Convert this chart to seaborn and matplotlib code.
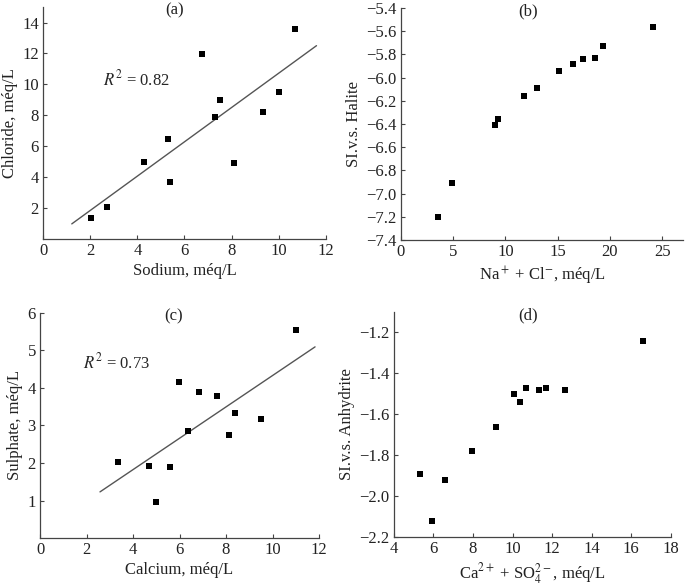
import numpy as np
import pandas as pd
import seaborn as sns
import matplotlib.pyplot as plt

# (a) sodium vs chloride
sodium = [2.05, 2.73, 4.29, 5.29, 5.40, 6.75, 7.30, 7.52, 8.12, 9.34, 9.99, 10.69]
chloride = [1.39, 2.10, 4.97, 6.50, 3.67, 11.97, 7.87, 9.00, 4.95, 8.20, 9.52, 13.60]

# (b) Na + Cl vs SI halite
na_cl = [3.51, 4.88, 8.99, 9.25, 11.73, 12.98, 15.08, 16.45, 17.41, 18.56, 19.32, 24.10]
si_halite = [-7.20, -6.91, -6.41, -6.36, -6.16, -6.09, -5.94, -5.88, -5.84, -5.83, -5.73, -5.56]

# (c) calcium vs sulphate
calcium = [3.35, 4.70, 5.00, 5.59, 5.96, 6.38, 6.82, 7.60, 8.14, 8.37, 9.51, 11.03]
sulphate = [2.03, 1.92, 0.96, 1.90, 4.17, 2.84, 3.89, 3.78, 2.75, 3.33, 3.16, 5.55]

# (d) Ca + SO4 vs SI anhydrite
ca_so4 = [5.32, 5.94, 6.58, 7.95, 9.18, 10.09, 10.39, 10.68, 11.35, 11.69, 12.67, 16.57]
si_anhydrite = [-1.89, -2.12, -1.92, -1.78, -1.66, -1.50, -1.54, -1.47, -1.48, -1.47, -1.48, -1.24]

sns.set_style("ticks")
plt.rcParams['font.family'] = ['Liberation Serif', 'DejaVu Serif']
plt.rcParams['mathtext.fontset'] = 'stix'
plt.rcParams['font.size'] = 12
plt.rcParams['xtick.direction'] = 'in'
plt.rcParams['ytick.direction'] = 'in'
plt.rcParams['axes.edgecolor'] = '#444444'
plt.rcParams['xtick.color'] = '#444444'
plt.rcParams['ytick.color'] = '#444444'
plt.rcParams['xtick.labelcolor'] = '#222222'
plt.rcParams['ytick.labelcolor'] = '#222222'

fig = plt.figure(figsize=(6.85, 5.86), dpi=100)
ax_a = fig.add_axes([0.0628, 0.592, 0.413, 0.396])
ax_b = fig.add_axes([0.5854, 0.5904, 0.4117, 0.396])
ax_c = fig.add_axes([0.0584, 0.0819, 0.4073, 0.384])
ax_d = fig.add_axes([0.575, 0.0836, 0.4044, 0.384])


def panel(ax, x, y, xlabel, ylabel, tag, tag_x):
    df = pd.DataFrame({"x": x, "y": y})
    sns.scatterplot(data=df, x="x", y="y", ax=ax, marker="s", s=13,
                    color="black", linewidth=0, zorder=3)
    ax.set_xlabel(xlabel, fontsize=12, color="#222222", labelpad=3)
    ax.set_ylabel(ylabel, fontsize=12, color="#222222", labelpad=3)
    ax.text(tag_x, 0.985, tag, transform=ax.transAxes, ha="center", va="center",
            fontsize=12, color="#222222")
    sns.despine(ax=ax)
    ax.tick_params(length=3, width=0.8, labelsize=12, pad=3)
    for s in ax.spines.values():
        s.set_linewidth(0.9)


def trend(ax, x, y, x0, x1):
    k, b = np.polyfit(x, y, 1)
    xs = np.linspace(x0, x1, 2)
    ax.plot(xs, k * xs + b, color="#555555", lw=1.0, zorder=2)


def minus_fmt(v, p):
    return f"{v:.1f}".replace("-", "\u2212")


panel(ax_a, sodium, chloride, "Sodium, méq/L", "Chloride, méq/L", "(a)", 0.466)
trend(ax_a, sodium, chloride, 1.22, 11.6)
ax_a.set_xlim(0, 12)
ax_a.set_ylim(0, 15)
ax_a.set_xticks(range(0, 13, 2))
ax_a.set_yticks(range(2, 15, 2))
ax_a.text(3.95, 10.3, r"$R^2$ = 0.82", ha="center", va="center", fontsize=12)

panel(ax_b, na_cl, si_halite, r"Na$^+$ + Cl$^{-}$, méq/L", "SI.v.s. Halite", "(b)", 0.45)
ax_b.set_xlim(0, 27)
ax_b.set_ylim(-7.4, -5.4)
ax_b.set_xticks(range(0, 26, 5))
ax_b.set_yticks(np.round(np.arange(-7.4, -5.39, 0.2), 1))
ax_b.yaxis.set_major_formatter(plt.FuncFormatter(minus_fmt))

panel(ax_c, calcium, sulphate, "Calcium, méq/L", "Sulphate, méq/L", "(c)", 0.477)
trend(ax_c, calcium, sulphate, 2.58, 11.83)
ax_c.set_xlim(0, 12)
ax_c.set_ylim(0, 6)
ax_c.set_xticks(range(0, 13, 2))
ax_c.set_yticks(range(1, 7))
ax_c.text(3.3, 4.67, r"$R^2$ = 0.73", ha="center", va="center", fontsize=12)

panel(ax_d, ca_so4, si_anhydrite, r"Ca$^{2+}$ + SO$_4^{2-}$, méq/L", "SI.v.s. Anhydrite", "(d)", 0.484)
ax_d.set_xlim(4, 18)
ax_d.set_ylim(-2.2, -1.1)
ax_d.set_xticks(range(4, 19, 2))
ax_d.set_yticks(np.round(np.arange(-2.2, -1.19, 0.2), 1))
ax_d.yaxis.set_major_formatter(plt.FuncFormatter(minus_fmt))

fig.savefig("out.png", dpi=100)
